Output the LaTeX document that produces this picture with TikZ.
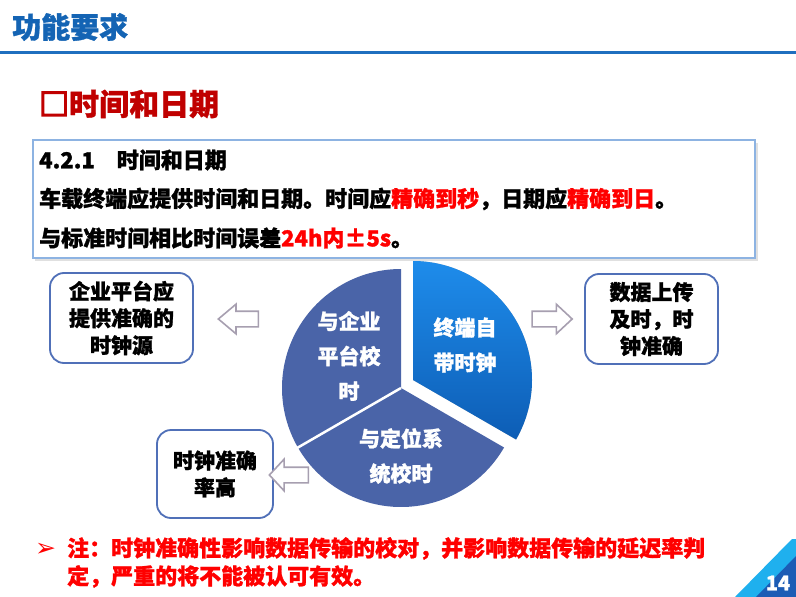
\documentclass[tikz,border=0pt]{standalone}
\usepackage{fontspec}
\setmainfont{Noto Sans CJK SC}[BoldFeatures={FakeBold=1.2}]
\newfontfamily\dejavu{DejaVu Sans}
\newfontfamily\sqfont{Noto Sans CJK SC}[FakeBold=5]
\usetikzlibrary{shapes.arrows}
\definecolor{titleblue}{HTML}{1464B4}
\definecolor{lineblue}{HTML}{1F6FBF}
\definecolor{secred}{HTML}{C00000}
\definecolor{hired}{HTML}{FF0000}
\definecolor{boxblue}{HTML}{8DB3E2}
\definecolor{nodeblue}{HTML}{5070B8}
\definecolor{arrowgray}{HTML}{A79FB0}
\definecolor{slate}{HTML}{4A64A8}
\definecolor{bluetop}{HTML}{1E8CEB}
\definecolor{bluebot}{HTML}{0D5DB5}
\definecolor{tri1}{HTML}{1FB0EE}
\definecolor{tri2}{HTML}{1C5CB5}
\begin{document}
\begin{tikzpicture}[x=1pt,y=-1pt,
  infobox/.style={draw=nodeblue, line width=1.8pt, rounded corners=14pt, fill=white,
    align=center, font=\fontsize{21}{27}\selectfont\bfseries, inner sep=0pt},
  blockarrow/.style={single arrow, draw=arrowgray, line width=1.6pt, fill=white,
    inner xsep=0pt, inner ysep=7pt, single arrow head extend=7pt, minimum width=28pt},
  pielabel/.style={text=white, align=center, font=\fontsize{21}{35}\selectfont\bfseries, inner sep=0pt},
  bodytext/.style={anchor=west, inner sep=0pt, font=\fontsize{22}{27}\selectfont\bfseries}
]
\useasboundingbox (0,0) rectangle (796,597);
\fill[white] (0,0) rectangle (796,597);

% title and rule
\node[anchor=west, inner sep=0pt, text=titleblue, font=\fontsize{29}{32}\selectfont\bfseries] (title) at (12,27) {功能要求};
\draw[lineblue, line width=3pt] (0,52.5) -- (796,52.5);

% section heading
\node[anchor=west, inner sep=0pt, text=secred, font=\fontsize{30}{34}\selectfont\bfseries] (sec) at (39,104) {{\sqfont □}时间和日期};

% requirement box
\fill[black, opacity=0.12] (35,143) rectangle (758,261);
\node[draw=boxblue, line width=1.5pt, fill=white, minimum width=722pt, minimum height=118pt, inner sep=0pt] (box) at (394,199) {};
\node[bodytext] (l1) at (39,160) {4.2.1　时间和日期};
\node[bodytext] (l2) at (39,199) {车载终端应提供时间和日期。时间应\textcolor{hired}{精确到秒}，日期应\textcolor{hired}{精确到日}。};
\node[bodytext] (l3) at (39,238) {与标准时间相比时间误差\textcolor{hired}{24h内±5s}。};

% pie
\coordinate (c) at (401,388);
\coordinate (bv) at (413,380);
\fill[slate] (c) -- ++(-90:119) arc[start angle=-90, end angle=-210, radius=119] -- cycle;
\fill[slate] (c) -- ++(-210:119) arc[start angle=-210, end angle=-330, radius=119] -- cycle;
\draw[white, line width=2.5pt] (c) -- ++(-210:121);
\begin{scope}[shift={(3,4)}]
\fill[black, opacity=0.25] (bv) -- ++(-90:119) arc[start angle=-90, end angle=30, radius=119] -- cycle;
\end{scope}
\shade[top color=bluetop, bottom color=bluebot] (bv) -- ++(-90:119) arc[start angle=-90, end angle=30, radius=119] -- cycle;

\node[pielabel] (p1) at (349,356) {与企业\\平台校\\时};
\node[pielabel] (p2) at (465,345) {终端自\\带时钟};
\node[pielabel] (p3) at (401,456) {与定位系\\统校时};

% side boxes
\node[infobox, minimum width=143pt, minimum height=90pt] (lb) at (121.5,318) {企业平台应\\提供准确的\\时钟源};
\node[infobox, minimum width=133pt, minimum height=90pt] (rb) at (651.5,319) {数据上传\\及时，时\\钟准确};
\node[infobox, minimum width=116pt, minimum height=88pt] (bb) at (215,474) {时钟准确\\率高};

% block arrows
\node[blockarrow, minimum height=40pt, shape border rotate=180, single arrow tip angle=80] (la) at (243,319) {};
\node[blockarrow, minimum height=40pt, single arrow tip angle=86] (ra) at (548,319) {};
\node[blockarrow, minimum height=39pt, minimum width=30pt, single arrow head extend=8pt, shape border rotate=180, single arrow tip angle=94] (ba) at (292.5,475) {};

% note
\node[anchor=west, inner sep=0pt, text=hired, font=\dejavu\fontsize{25}{26}\selectfont] (bul) at (35,550) {➢};
\node[anchor=north west, inner sep=0pt, align=left, text=hired, font=\fontsize{22}{28}\selectfont\bfseries] (note) at (67,537) {注：时钟准确性影响数据传输的校对，并影响数据传输的延迟率判\\定，严重的将不能被认可有效。};

% page corner
\fill[tri1] (735,597) -- (792,539) -- (796,539) -- (796,597) -- cycle;
\fill[tri2] (756,597) -- (796,556) -- (796,597) -- cycle;
\node[text=white, inner sep=0pt, font=\fontsize{20}{22}\selectfont\bfseries] (pg) at (778,583) {14};
\end{tikzpicture}
\end{document}
